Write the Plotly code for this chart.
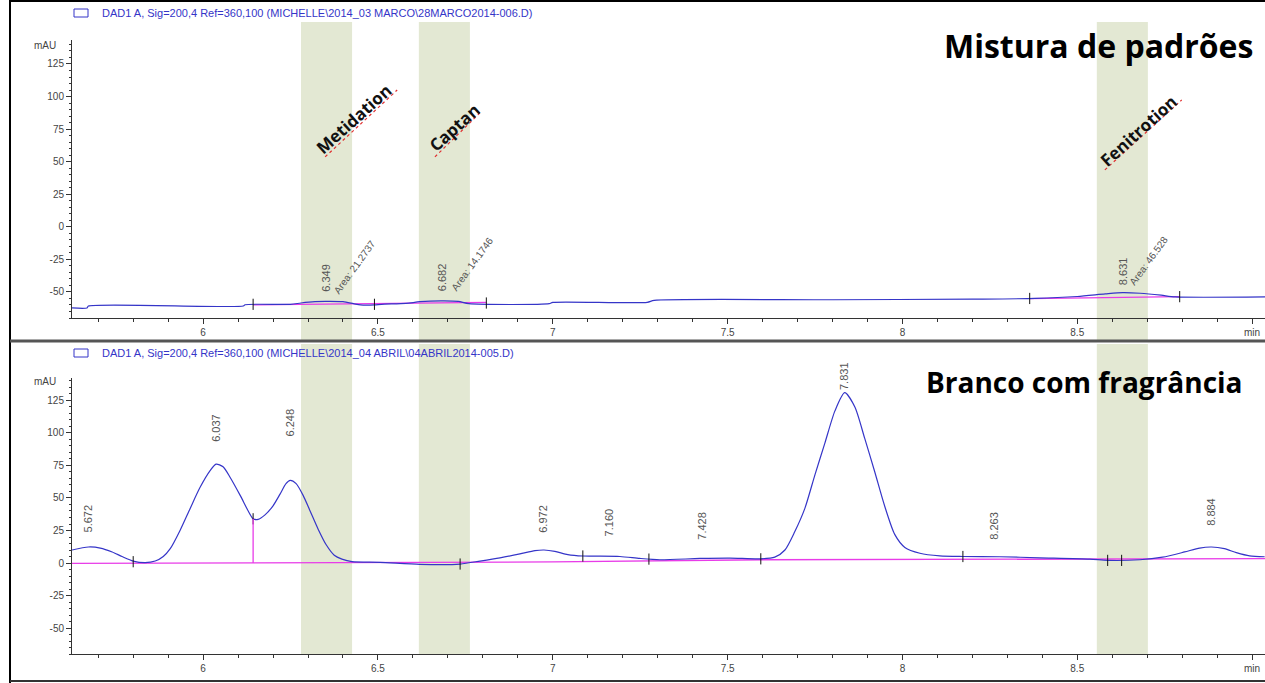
import plotly.graph_objects as go

# ---------------- data ----------------
# top chromatogram: "Mistura de padrões"
top_time = [5.625, 5.668, 5.672, 6.115, 6.12, 6.25, 6.28, 6.32, 6.35, 6.40, 6.43, 6.45, 6.49,
            6.51, 6.58, 6.62, 6.68, 6.73, 6.76, 6.99, 7.00, 7.27, 7.29, 7.80, 8.20, 8.38,
            8.50, 8.58, 8.63, 8.68, 8.74, 8.78, 9.04]
top_signal = [-62.3, -62.3, -60.8, -60.8, -59.8, -59.5, -58.5, -57.5, -57.2, -57.5, -59.0, -60.0, -60.0,
              -59.5, -58.8, -57.5, -56.8, -57.2, -59.0, -59.0, -58.0, -58.0, -56.5, -56.0, -55.5, -55.0,
              -53.5, -51.5, -50.5, -51.0, -52.5, -53.8, -53.8]
top_base_time = [6.143, 6.81, None, 8.364, 8.793]
top_base_signal = [-60.0, -58.0, None, -55.2, -53.6]
top_event_time = [6.143, 6.49, 6.81, 8.364, 8.793]
top_event_signal = [-59.5, -59.5, -58.5, -55.0, -53.6]
top_peak_time = [6.349, 6.682, 8.631]
top_peak_label = ["6.349", "6.682", "8.631"]
top_area_label = ["Area: 21.2737", "Area: 14.1746", "Area: 46.528"]

# bottom chromatogram: "Branco com fragrância"
bot_time = [5.625, 5.672, 5.706, 5.740, 5.768, 5.800, 5.834, 5.863, 5.886, 5.906, 5.934, 5.963,
            5.991, 6.020, 6.037, 6.057, 6.077, 6.106, 6.129, 6.143, 6.157, 6.177, 6.200, 6.220,
            6.237, 6.249, 6.266, 6.286, 6.306, 6.329, 6.352, 6.375, 6.397, 6.426, 6.506, 6.620,
            6.735, 6.792, 6.849, 6.906, 6.949, 6.975, 7.006, 7.043, 7.086, 7.192, 7.249, 7.306,
            7.421, 7.507, 7.592, 7.635, 7.664, 7.692, 7.721, 7.750, 7.778, 7.807, 7.835, 7.864,
            7.892, 7.921, 7.949, 7.978, 8.007, 8.050, 8.107, 8.173, 8.278, 8.393, 8.536, 8.587,
            8.679, 8.744, 8.807, 8.850, 8.884, 8.921, 8.955, 8.993, 9.036]
bot_signal = [10.0, 12.3, 11.5, 8.5, 5.0, 1.5, 0.3, 1.5, 5.0, 11.0, 25.0, 42.0,
              58.0, 71.0, 76.0, 74.0, 66.0, 52.0, 40.0, 34.0, 33.5, 37.0, 44.0, 53.0,
              61.0, 63.5, 61.0, 52.0, 40.0, 26.0, 14.0, 6.0, 3.0, 1.0, 0.5, -1.0,
              -0.8, 1.5, 4.0, 7.0, 9.5, 10.0, 9.0, 6.5, 5.4, 5.0, 3.5, 2.5,
              3.5, 3.8, 3.2, 4.5, 10.0, 24.0, 42.0, 68.0, 92.0, 117.0, 131.0, 120.0,
              96.0, 70.0, 44.0, 22.0, 12.0, 7.5, 5.5, 5.0, 4.8, 4.0, 3.0, 2.0,
              2.5, 4.5, 8.5, 11.5, 12.3, 11.0, 8.0, 5.5, 4.8]
bot_base_time = [5.625, 6.40, 7.00, 7.60, 8.20, 9.037]
bot_base_signal = [-0.3, 0.0, 0.8, 2.5, 3.0, 3.3]
drop_time = [6.143, 6.143]
drop_signal = [0.0, 34.0]
bot_event_time = [5.80, 6.143, 6.735, 7.086, 7.275, 7.595, 8.173, 8.587, 8.627]
bot_event_signal = [1.0, 34.0, -0.8, 5.4, 3.0, 3.2, 5.0, 2.0, 2.0]
bot_peak_time = [5.672, 6.037, 6.248, 6.972, 7.160, 7.428, 7.831, 8.263, 8.884]
bot_peak_label = ["5.672", "6.037", "6.248", "6.972", "7.160", "7.428", "7.831", "8.263", "8.884"]
bot_label_level = [34.6, 104, 108, 34, 31, 29, 131, 29, 39]

# highlighted retention windows
band_start = [6.280, 6.617, 8.556]
band_end = [6.426, 6.763, 8.702]
compounds = ["Metidation", "Captan", "Fenitrotion"]
compound_time = [6.432, 6.718, 8.676]
compound_level = [82.8, 76.3, 73.6]

x_tickvals = [6, 6.5, 7, 7.5, 8, 8.5, 9]
x_ticktext = ["6", "6.5", "7", "7.5", "8", "8.5", "min"]
y_tickvals = [-50, -25, 0, 25, 50, 75, 100, 125]
y_ticktext = ["-50", "-25", "0", "25", "50", "75", "100", "125"]

header_top = "DAD1 A, Sig=200,4 Ref=360,100 (MICHELLE\\2014_03 MARCO\\28MARCO2014-006.D)"
header_bot = "DAD1 A, Sig=200,4 Ref=360,100 (MICHELLE\\2014_04 ABRIL\\04ABRIL2014-005.D)"
title_top = "Mistura de padrões"
title_bot = "Branco com fragrância"

# ---------------- styling ----------------
W, H = 1265, 683
BLUE = "#3535c8"
PINK = "#e83ce8"
BAND = "#e3e8d3"
AXC = "#333333"
LBL = "#555555"

def py(px):
    return 1 - px / H

def px_x(px):
    return px / W

fig = go.Figure()

for xa, ya, t, s, bt, bs, et, es in [
    ("x", "y", top_time, top_signal, top_base_time, top_base_signal, top_event_time, top_event_signal),
    ("x2", "y2", bot_time, bot_signal, bot_base_time, bot_base_signal, bot_event_time, bot_event_signal),
]:
    fig.add_trace(go.Scatter(x=bt, y=bs, mode="lines", xaxis=xa, yaxis=ya,
                             line=dict(color=PINK, width=1.3), hoverinfo="skip"))
    fig.add_trace(go.Scatter(x=t, y=s, mode="lines", xaxis=xa, yaxis=ya,
                             line=dict(color=BLUE, width=1.2, shape="spline", smoothing=0.7)))
    fig.add_trace(go.Scatter(x=et, y=es, mode="markers", xaxis=xa, yaxis=ya,
                             marker=dict(symbol="line-ns", size=8,
                                         line=dict(color="#111111", width=1))))

fig.add_trace(go.Scatter(x=drop_time, y=drop_signal, mode="lines", xaxis="x2", yaxis="y2",
                         line=dict(color=PINK, width=1.3)))

axis_common = dict(showgrid=False, zeroline=False, showline=True, linecolor=AXC, linewidth=1,
                   ticks="outside", tickcolor=AXC, ticklen=5, tickwidth=1,
                   tickfont=dict(family="Liberation Sans", size=10, color="#444444"))
xdom = [72 / W, 1.0]
xrange_ = [5.625, 9.037]
fig.update_layout(
    xaxis=dict(domain=xdom, range=xrange_, anchor="y", tickmode="array",
               tickvals=x_tickvals, ticktext=x_ticktext,
               minor=dict(tickmode="linear", tick0=5.6, dtick=0.1, ticks="outside", ticklen=3,
                          tickcolor=AXC, showgrid=False), **axis_common),
    yaxis=dict(domain=[py(318), py(40)], range=[-70, 143.4], anchor="x", tickmode="array",
               tickvals=y_tickvals, ticktext=y_ticktext,
               minor=dict(tickmode="linear", tick0=0, dtick=5, ticks="outside", ticklen=2.5,
                          tickcolor=AXC, showgrid=False), **axis_common),
    xaxis2=dict(domain=xdom, range=xrange_, anchor="y2", tickmode="array",
                tickvals=x_tickvals, ticktext=x_ticktext,
                minor=dict(tickmode="linear", tick0=5.6, dtick=0.1, ticks="outside", ticklen=3,
                           tickcolor=AXC, showgrid=False), **axis_common),
    yaxis2=dict(domain=[py(654), py(378)], range=[-70, 142.3], anchor="x2", tickmode="array",
                tickvals=y_tickvals, ticktext=y_ticktext,
                minor=dict(tickmode="linear", tick0=0, dtick=5, ticks="outside", ticklen=2.5,
                           tickcolor=AXC, showgrid=False), **axis_common),
)

shapes = []
# retention windows
for b0, b1 in zip(band_start, band_end):
    shapes.append(dict(type="rect", xref="x", yref="paper", x0=b0, x1=b1, y0=py(340), y1=py(22),
                       fillcolor=BAND, line=dict(width=0), layer="below"))
    shapes.append(dict(type="rect", xref="x2", yref="paper", x0=b0, x1=b1, y0=py(655), y1=py(344),
                       fillcolor=BAND, line=dict(width=0), layer="below"))
# frame
shapes.append(dict(type="line", xref="paper", yref="paper", x0=px_x(10), x1=px_x(10), y0=0, y1=1,
                   line=dict(color="#000000", width=2)))
shapes.append(dict(type="line", xref="paper", yref="paper", x0=px_x(10), x1=1, y0=py(1), y1=py(1),
                   line=dict(color="#000000", width=2)))
shapes.append(dict(type="line", xref="paper", yref="paper", x0=px_x(10), x1=1, y0=py(341), y1=py(341),
                   line=dict(color="#555555", width=3)))
shapes.append(dict(type="line", xref="paper", yref="paper", x0=px_x(10), x1=1, y0=py(681), y1=py(681),
                   line=dict(color="#333333", width=2)))
# legend icons
for yc in (13, 353):
    shapes.append(dict(type="rect", xref="paper", yref="paper", x0=px_x(74), x1=px_x(88),
                       y0=py(yc + 4), y1=py(yc - 4), line=dict(color=BLUE, width=1)))
# red wavy (spell-check) underlines under compound names
underlines = [((6.349, 53.7), (6.555, 105)), ((6.663, 53.7), (6.792, 87.5)), ((8.579, 43.7), (8.799, 97.4))]
for (xa0, ya0), (xa1, ya1) in underlines:
    shapes.append(dict(type="line", xref="x", yref="y", x0=xa0, y0=ya0, x1=xa1, y1=ya1,
                       line=dict(color="#e03030", width=1.2, dash="dot")))

ann = []
# headers
ann.append(dict(text=header_top, xref="paper", yref="paper", x=px_x(100), y=py(13), xanchor="left",
                yanchor="middle", showarrow=False,
                font=dict(family="Liberation Sans", size=11, color=BLUE)))
ann.append(dict(text=header_bot, xref="paper", yref="paper", x=px_x(100), y=py(353), xanchor="left",
                yanchor="middle", showarrow=False,
                font=dict(family="Liberation Sans", size=11, color=BLUE)))
# mAU labels
for yc in (46, 381):
    ann.append(dict(text="mAU", xref="paper", yref="paper", x=px_x(58), y=py(yc), xanchor="right",
                    yanchor="middle", showarrow=False,
                    font=dict(family="Liberation Sans", size=10, color="#444444")))
# titles
ann.append(dict(text="<b>" + title_top + "</b>", xref="paper", yref="paper", x=px_x(1255), y=py(45),
                xanchor="right", yanchor="middle", showarrow=False,
                font=dict(family="Open Sans", size=32, color="#000000")))
ann.append(dict(text="<b>" + title_bot + "</b>", xref="paper", yref="paper", x=px_x(1245), y=py(382),
                xanchor="right", yanchor="middle", showarrow=False,
                font=dict(family="Open Sans", size=28, color="#000000")))
# compound names
for name, t, v in zip(compounds, compound_time, compound_level):
    ann.append(dict(text="<b>" + name + "</b>", xref="x", yref="y", x=t, y=v, textangle=-42,
                    showarrow=False, xanchor="center", yanchor="middle",
                    font=dict(family="Open Sans", size=17, color="#111111")))
# top peak labels
top_label_level = [-39, -39, -34]
area_offset_t = [0.083, 0.087, 0.074]
area_level = [-31, -29, -26]
for t, lab, lv, area, dt, alv in zip(top_peak_time, top_peak_label, top_label_level,
                                     top_area_label, area_offset_t, area_level):
    ann.append(dict(text=lab, xref="x", yref="y", x=t, y=lv, textangle=-90, showarrow=False,
                    font=dict(family="Liberation Sans", size=11, color=LBL)))
    ann.append(dict(text=area, xref="x", yref="y", x=t + dt, y=alv, textangle=-54, showarrow=False,
                    font=dict(family="Liberation Sans", size=10, color=LBL)))
# bottom peak labels
for t, lab, lv in zip(bot_peak_time, bot_peak_label, bot_label_level):
    shift = 17 if lv > 125 else 0
    ann.append(dict(text=lab, xref="x2", yref="y2", x=t, y=min(lv, 131), yshift=shift,
                    textangle=-90, showarrow=False,
                    font=dict(family="Liberation Sans", size=11, color=LBL)))

fig.update_layout(
    width=W, height=H, autosize=False,
    margin=dict(l=0, r=0, t=0, b=0),
    paper_bgcolor="white", plot_bgcolor="rgba(0,0,0,0)",
    showlegend=False,
    shapes=shapes, annotations=ann,
)

fig.write_html("out.html", config={"displayModeBar": False},
               post_script="document.body.style.margin='0';")
